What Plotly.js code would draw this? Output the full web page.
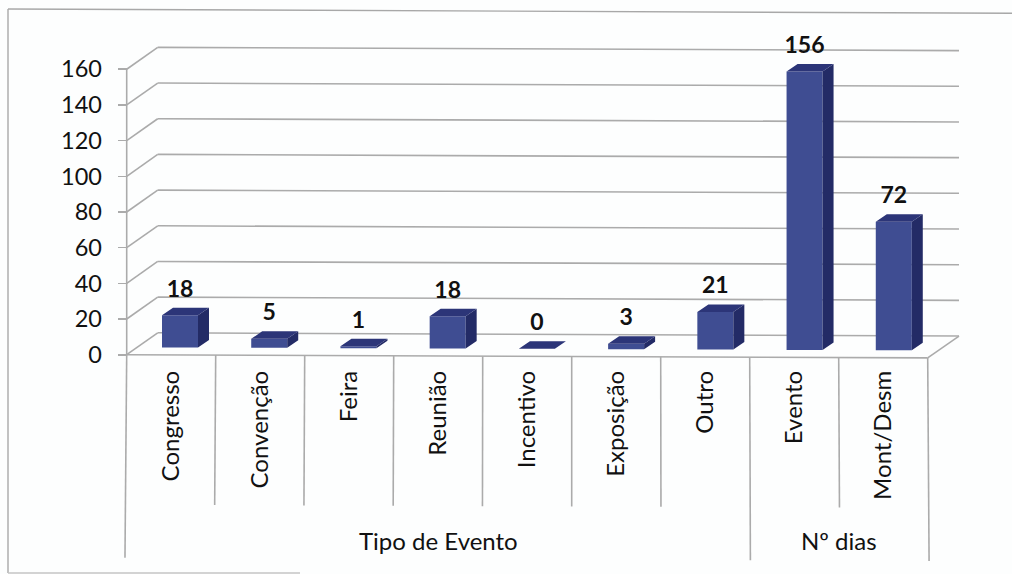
<!DOCTYPE html>
<html>
<head>
<meta charset="utf-8">
<script src="https://cdn.plot.ly/plotly-3.0.1.min.js"></script>
<style>html,body{margin:0;padding:0;background:#fdfefe}#chart{width:1012px;height:574px}</style>
</head>
<body>
<div id="chart"></div>
<script>
const categories = ["Congresso","Convenção","Feira","Reunião","Incentivo","Exposição","Outro","Evento","Mont/Desm"];
const values = [18,5,1,18,0,3,21,156,72];
const yTicks = [0,20,40,60,80,100,120,140,160];
const groupLabels = ["Tipo de Evento","Nº dias"];
const groupEdges = [0,7,9];

const W=1012,H=574,X0=126.7,Y0=354.7,PXC=89,PXV=1.784;
const FONT='Lato, "Open Sans", sans-serif';
const tilt=c=>-0.2*c;
const GRID='#ababab';
const wallDx=31/PXC, wallDy=22/PXV, wallEnd=(959-X0)/PXC;
const barW=36/PXC, barOff=8.8/PXC, barLift=7.5/PXV, sideDx=11/PXC, sideDy=7.5/PXV;
const centers=categories.map((_,i)=>i+0.5);
const frameX=p=>(p-X0)/PXC;

const line=(x0,y0,x1,y1,w)=>({type:'line',layer:'below',xref:'x',yref:'y',x0,y0,x1,y1,line:{color:GRID,width:w||1.6}});
const shapes=[];
yTicks.forEach(v=>{
  shapes.push(line(0,v,wallDx,v+wallDy+tilt(wallDx)));
  shapes.push(line(wallDx,v+wallDy+tilt(wallDx),wallEnd,v+wallDy+tilt(wallEnd)));
});
shapes.push(line(0,0,0,160));
shapes.push(line(0,0,categories.length,tilt(categories.length)));
shapes.push(line(categories.length,tilt(categories.length),wallEnd,wallDy+tilt(wallEnd)));
const sep=(c,len)=>line(c,tilt(c),c-len*0.0085*(1-c/5)*PXV/PXC,tilt(c)-len);
for(let c=1;c<categories.length;c++){ if(!groupEdges.includes(c)) shapes.push(sep(c,150/PXV)); }
groupEdges.forEach(c=>shapes.push(sep(c,203/PXV)));
// scanned frame: top, left and the visible part of the bottom edge
const fl=(a,b,c,d,col)=>({type:'line',layer:'below',xref:'x',yref:'y',x0:frameX(a),y0:(Y0-b)/PXV,x1:frameX(c),y1:(Y0-d)/PXV,line:{color:col||'#a8a8a8',width:1.4}});
shapes.push(fl(8,9,1012,13.3),fl(8,9,8,573),fl(8,573,300,573,'#c4c4c4'));

const barX=centers.map((c,i)=>c+barOff+0.0025*i);
const barBase=barX.map(c=>barLift+tilt(c));
const tops=values.map((v,i)=>v+barBase[i]);
const topX=[],topY=[],sideX=[],sideY=[];
barX.forEach((c,i)=>{
  const l=c-barW/2,r=c+barW/2,t=tops[i],b=barBase[i];
  topX.push(l,r,r+sideDx,l+sideDx,l,null); topY.push(t,t,t+sideDy,t+sideDy,t,null);
  sideX.push(r,r,r+sideDx,r+sideDx,r,null); sideY.push(b,t,t+sideDy,b+sideDy,b,null);
});

const traces=[
 {type:'bar',x:barX,y:values,base:barBase,width:barW,marker:{color:'#3f4d92',line:{width:0}},hoverinfo:'skip'},
 {type:'scatter',mode:'lines',x:sideX,y:sideY,fill:'toself',fillcolor:'#232b66',line:{width:0,color:'#232b66'},hoverinfo:'skip'},
 {type:'scatter',mode:'lines',x:topX,y:topY,fill:'toself',fillcolor:'#2c3578',line:{width:0,color:'#2c3578'},hoverinfo:'skip'},
 {type:'scatter',mode:'text',x:barX,y:tops.map(t=>t+24.5/PXV),text:values.map(String),textposition:'middle center',cliponaxis:false,
  textfont:{family:FONT,size:23,color:'#111',weight:700},hoverinfo:'skip'}
];

const annotations=groupLabels.map((t,i)=>({xref:'x',yref:'y',x:(groupEdges[i]+groupEdges[i+1])/2,y:(Y0-540)/PXV,text:t,showarrow:false,
  font:{family:FONT,size:24,color:'#111'},xanchor:'center',yanchor:'middle'}));

const layout={
 width:W,height:H,margin:{l:0,r:0,t:0,b:0,pad:0},paper_bgcolor:'#fdfefe',plot_bgcolor:'rgba(0,0,0,0)',showlegend:false,
 xaxis:{range:[-X0/PXC,(W-X0)/PXC],tickmode:'array',tickvals:centers,ticktext:categories,tickangle:-90,anchor:'free',position:1-365/H,
   showgrid:false,zeroline:false,showline:false,ticks:'',tickfont:{family:FONT,size:24,color:'#111'},automargin:false},
 yaxis:{range:[(Y0-H)/PXV,Y0/PXV],tickmode:'array',tickvals:yTicks,ticktext:yTicks.map(String),anchor:'free',position:X0/W,
   showgrid:false,zeroline:false,showline:false,ticks:'outside',ticklen:9,tickcolor:GRID,tickwidth:1.6,ticklabelstandoff:11,tickfont:{family:FONT,size:23.5,color:'#111'},automargin:false},
 shapes,annotations
};
Plotly.newPlot('chart',traces,layout,{displayModeBar:false,staticPlot:true});
</script>
</body>
</html>
